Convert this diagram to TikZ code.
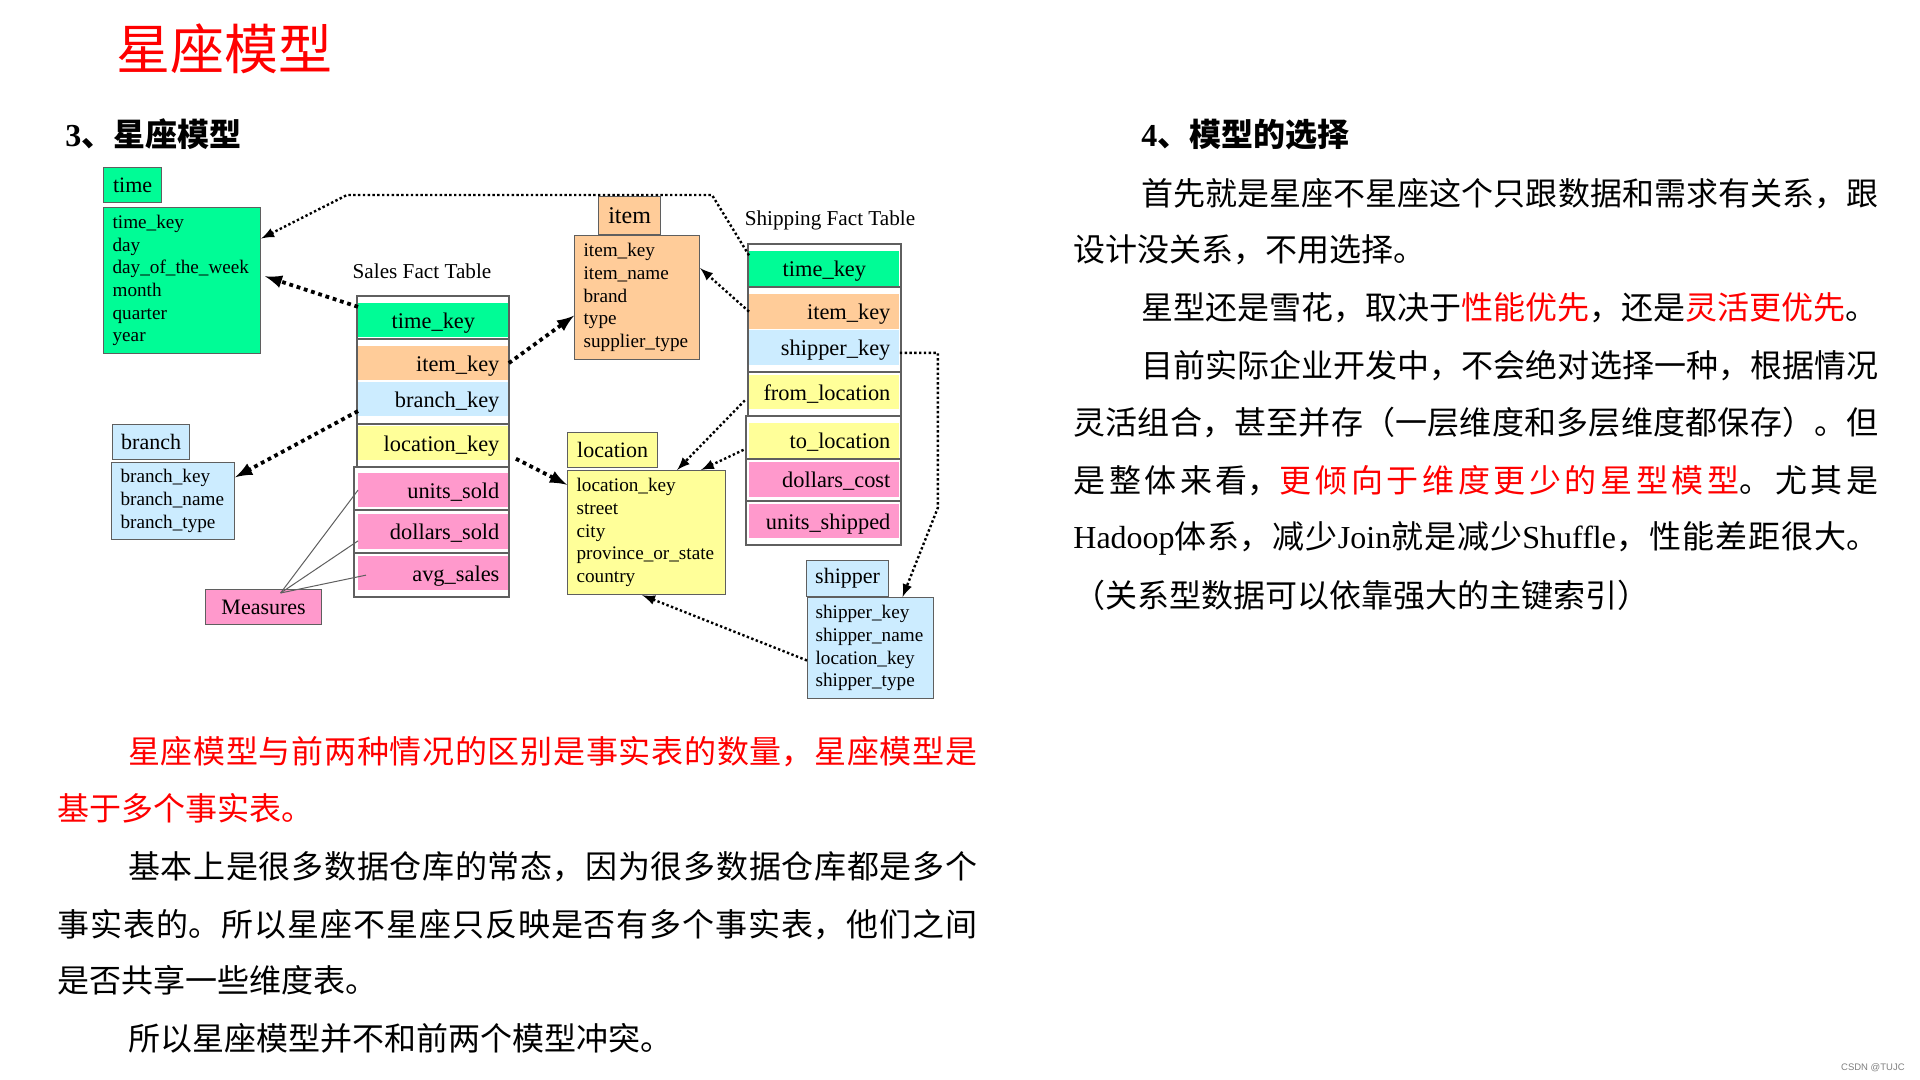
\documentclass[tikz,border=0pt]{standalone}
\usepackage{fontspec}
\setmainfont{Liberation Serif}
\newfontfamily\cjk{Noto Sans CJK SC}
\newfontfamily\markfont{Liberation Sans}
\usepackage{tikz}
\usetikzlibrary{positioning,arrows,calc}

\definecolor{keyGreen}{RGB}{0,252,150}
\definecolor{keyOrange}{RGB}{255,204,153}
\definecolor{keyBlue}{RGB}{204,236,255}
\definecolor{keyYellow}{RGB}{255,255,153}
\definecolor{keyPink}{RGB}{255,153,204}
\definecolor{frameGray}{RGB}{95,95,95}
\definecolor{textRed}{RGB}{255,0,0}

\newcommand{\bodyfont}{\fontsize{16}{19}\selectfont}
\newcommand{\jline}[2]{\parbox[t]{#1}{\XeTeXlinebreaklocale "zh"\XeTeXlinebreakskip=0pt plus 4pt minus 0.2pt\parfillskip=0pt\tolerance=10000\noindent #2}}

\begin{document}
\begin{tikzpicture}[x=0.5pt, y=-0.5pt,
    tblframe/.style={draw=frameGray, line width=0.6pt, fill=white},
    dimhead/.style={draw=frameGray, line width=0.6pt, anchor=north west, inner sep=0pt, font=\fontsize{11}{13}\selectfont},
    dimbody/.style={draw=frameGray, line width=0.6pt, anchor=north west, inner ysep=0pt, align=left, font=\fontsize{9.6}{11.35}\selectfont},
    keyrow/.style={anchor=north west, inner ysep=0pt, inner xsep=4.5pt, minimum height=17.25pt, text width=66pt,
      text height=10.5pt, text depth=2.4pt, align=right, font=\fontsize{11.2}{13}\selectfont},
    fkthick/.style={-latex, line width=1.9pt, dash pattern=on 1.9pt off 1.9pt},
    fkthin/.style={-latex, line width=1.2pt, dash pattern=on 1.2pt off 1.2pt},
    measline/.style={frameGray, line width=0.5pt},
    bodytext/.style={anchor=base west, inner sep=0pt, font=\bodyfont}]
%
    \fill[white] (0,0) rectangle (1920,1080);
    \useasboundingbox (0,0) rectangle (1920,1080);
%
    \node[anchor=base west, inner sep=0pt, text=textRed, font=\cjk\fontsize{27}{30}\selectfont] (title) at (116,69.5) {星座模型};
    \node[bodytext, font=\bodyfont\bfseries] (secThree) at (65,146.7) {3{\cjk 、星座模型}};
    \node[bodytext, font=\bodyfont\bfseries] (secFour) at (1141,146.7) {4{\cjk 、模型的选择}};
%
    % frames of the two fact tables
    \foreach \ya/\yb in {296/339, 339/424, 424/467}
      \draw[tblframe] (357,\ya) rectangle (509,\yb);
    \foreach \ya/\yb in {467/510, 510/553, 553/597}
      \draw[tblframe] (354,\ya) rectangle (509,\yb);
    \foreach \ya/\yb in {244/287, 287/372, 372/416}
      \draw[tblframe] (748,\ya) rectangle (901,\yb);
    \foreach \ya/\yb in {416/459, 459/501, 501/545}
      \draw[tblframe] (746,\ya) rectangle (901,\yb);
%
    \node[keyrow, fill=keyGreen, align=center] (sTime) at (358,302.5) {time\_key};
    \foreach \nm/\ty/\col/\txt in {sItem/345.5/keyOrange/item\_key, sBranch/381.5/keyBlue/branch\_key,
        sLoc/425.5/keyYellow/location\_key, sUnits/472.5/keyPink/units\_sold,
        sDollars/514/keyPink/dollars\_sold, sAvg/555.5/keyPink/avg\_sales}
      \node[keyrow, fill=\col] (\nm) at (358,\ty) {\txt};
%
    \node[keyrow, fill=keyGreen, align=center] (hTime) at (749,251) {time\_key};
    \foreach \nm/\ty/\col/\txt in {hItem/294/keyOrange/item\_key, hShip/330/keyBlue/shipper\_key,
        hFrom/374.5/keyYellow/from\_location, hTo/423/keyYellow/to\_location,
        hCost/462/keyPink/dollars\_cost, hUnits/503.5/keyPink/units\_shipped}
      \node[keyrow, fill=\col] (\nm) at (749,\ty) {\txt};
%
    \node[font=\fontsize{10.6}{12}\selectfont] (salesLbl) at (422,271) {Sales Fact Table};
    \node[font=\fontsize{10.6}{12}\selectfont] (shipLbl) at (830,220) {Shipping Fact Table};
%
    % dimension tables
    \node[dimhead, fill=keyGreen, minimum width=29pt, minimum height=17.5pt] (timeHead) at (103,167) {time};
    \node[dimbody, fill=keyGreen, inner xsep=4.5pt, text width=69.5pt, minimum height=73pt] (timeBody) at (103,207)
      {time\_key\\day\\day\_of\_the\_week\\month\\quarter\\year};
    \node[dimhead, fill=keyBlue, minimum width=38.5pt, minimum height=17.5pt] (branchHead) at (112,424) {branch};
    \node[dimbody, fill=keyBlue, inner xsep=4.5pt, text width=52.5pt, minimum height=38.5pt] (branchBody) at (111,462)
      {branch\_key\\branch\_name\\branch\_type};
    \node[dimhead, fill=keyOrange, minimum width=31pt, minimum height=19pt, font=\fontsize{12}{14}\selectfont] (itemHead) at (598,196) {item};
    \node[dimbody, fill=keyOrange, inner xsep=4.5pt, text width=53.5pt, minimum height=62pt] (itemBody) at (574,235)
      {item\_key\\item\_name\\brand\\type\\supplier\_type};
    \node[dimhead, fill=keyYellow, minimum width=45pt, minimum height=17.5pt] (locHead) at (567,432) {location};
    \node[dimbody, fill=keyYellow, inner xsep=4.5pt, text width=70pt, minimum height=62pt] (locBody) at (567,470)
      {location\_key\\street\\city\\province\_or\_state\\country};
    \node[dimhead, fill=keyBlue, minimum width=41pt, minimum height=18pt] (shipperHead) at (806,560) {shipper};
    \node[dimbody, fill=keyBlue, inner xsep=4pt, text width=55pt, minimum height=50.5pt] (shipperBody) at (807,597)
      {shipper\_key\\shipper\_name\\location\_key\\shipper\_type};
    \node[dimhead, fill=keyPink, minimum width=58pt, minimum height=17.5pt] (measures) at (205,589) {Measures};
%
    % foreign keys
    \coordinate (topL) at (347,195);
    \coordinate (topR) at (712,195);
    \draw[fkthick, shorten >=2pt] (sTime.170) -- (timeBody.4);
    \draw[fkthin] (hTime.170) -- (topR) -- (topL) -- (timeBody.28);
    \draw[fkthick] (sItem.east) -- (itemBody.196);
    \draw[fkthin] (hItem.west) -- (itemBody.25);
    \draw[fkthick] (sBranch.189) -- (branchBody.21);
    \draw[fkthick, shorten <=4pt] (sLoc.-9) -- (locBody.149);
    \draw[fkthin, shorten <=3pt] (hFrom.183) -- (locBody.64);
    \draw[fkthin, shorten <=3pt] (hTo.185) -- (locBody.49);
    \draw[fkthin] (shipperBody.191) -- (locBody.266);
    \draw[fkthin] (hShip.-4) -- ++(38,0) -- ++(0,155) -- (shipperBody.58);
%
    \coordinate (measTip) at ($(measures.north)+(17,4)$);
    \draw[measline] (measTip) -- (sUnits.west);
    \draw[measline] (measTip) -- (sDollars.187);
    \draw[measline] (measTip) -- ($(sAvg.west)+(8,2)$);
%
    % right column
    \node[bodytext] (r1) at (1141,205.3) {\jline{368.5pt}{\cjk 首先就是星座不星座这个只跟数据和需求有关系，跟}};
    \node[bodytext] (r2) at (1073,262) {\cjk 设计没关系，不用选择。};
    \node[bodytext] (r3) at (1141,319.3) {\cjk 星型还是雪花，取决于\textcolor{textRed}{性能优先}，还是\textcolor{textRed}{灵活更优先}。};
    \node[bodytext] (r4) at (1141,377.7) {\jline{368.5pt}{\cjk 目前实际企业开发中，不会绝对选择一种，根据情况}};
    \node[bodytext] (r5) at (1073,434.7) {\jline{402.5pt}{\cjk 灵活组合，甚至并存（一层维度和多层维度都保存）。但}};
    \node[bodytext] (r6) at (1073,492) {\jline{402.5pt}{\cjk 是整体来看，\textcolor{textRed}{更倾向于维度更少的星型模型}。尤其是}};
    \node[bodytext] (r7) at (1073,548.7) {\jline{402.5pt}{Hadoop{\cjk 体系，减少}Join{\cjk 就是减少}Shuffle{\cjk ，性能差距很大。}}};
    \node[bodytext] (r8) at (1073,607) {\cjk （关系型数据可以依靠强大的主键索引）};
%
    % left column
    \node[bodytext, text=textRed] (l1) at (127.6,763.7) {\jline{424.7pt}{\cjk 星座模型与前两种情况的区别是事实表的数量，星座模型是}};
    \node[bodytext, text=textRed] (l2) at (57.5,820.3) {\cjk 基于多个事实表。};
    \node[bodytext] (l3) at (127.6,878.7) {\jline{424.7pt}{\cjk 基本上是很多数据仓库的常态，因为很多数据仓库都是多个}};
    \node[bodytext] (l4) at (57.5,936) {\jline{459.75pt}{\cjk 事实表的。所以星座不星座只反映是否有多个事实表，他们之间}};
    \node[bodytext] (l5) at (57.5,992) {\cjk 是否共享一些维度表。};
    \node[bodytext] (l6) at (127.6,1050.3) {\cjk 所以星座模型并不和前两个模型冲突。};
%
    \node[anchor=base east, inner sep=0pt, text=gray, font=\markfont\fontsize{4.75}{5}\selectfont] (mark) at (1905,1070) {CSDN @TUJC};
  \end{tikzpicture}
\end{document}
